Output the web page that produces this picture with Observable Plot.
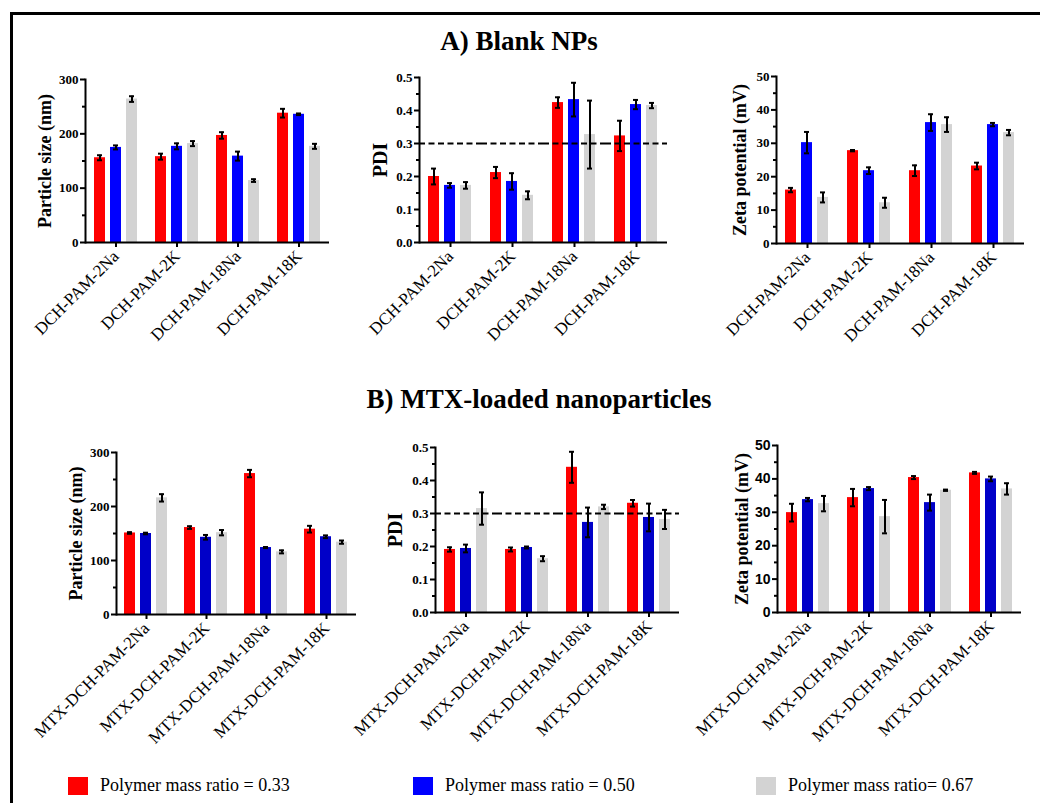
<!DOCTYPE html>
<html>
<head>
<meta charset="utf-8">
<script src="https://cdn.jsdelivr.net/npm/d3@7"></script>
<script src="https://cdn.jsdelivr.net/npm/@observablehq/plot@0.6"></script>
<style>
  html, body { margin: 0; padding: 0; background: #fff; }
  #root { position: relative; width: 1040px; height: 803px; overflow: hidden; background: #fff; font-family: 'Liberation Serif', serif; }
  .frame { position: absolute; left: 10px; top: 12px; width: 1100px; height: 900px; border-top: 3px solid #000; border-left: 3px solid #000; }
  .title { position: absolute; font-weight: bold; font-size: 27px; white-space: nowrap; transform: translateX(-50%); line-height: 1; }
  .panel { position: absolute; }
  .leg { position: absolute; top: 775px; display: flex; align-items: center; font-size: 18px; white-space: nowrap; }
  .leg .sw { width: 20px; height: 18px; margin-right: 12px; }
</style>
</head>
<body>
<div id="root">
  <div class="frame"></div>
</div>
<script>
// ---------- data ----------
const seriesKeys = ["0.33", "0.50", "0.67"];
const legendLabels = ["Polymer mass ratio = 0.33", "Polymer mass ratio = 0.50", "Polymer mass ratio= 0.67"];
const titleA = "A) Blank NPs";
const titleB = "B) MTX-loaded nanoparticles";

const catsA = ["DCH-PAM-2Na", "DCH-PAM-2K", "DCH-PAM-18Na", "DCH-PAM-18K"];
const catsB = ["MTX-DCH-PAM-2Na", "MTX-DCH-PAM-2K", "MTX-DCH-PAM-18Na", "MTX-DCH-PAM-18K"];

// A) Blank NPs — particle size (nm)
const sizeA_033 = [156, 158, 197, 238];
const sizeA_050 = [175, 177, 159, 236];
const sizeA_067 = [264, 182, 114, 177];
const sizeA_033_err = [4.6, 5.5, 6.0, 8.0];
const sizeA_050_err = [3.7, 5.5, 8.3, 1.5];
const sizeA_067_err = [5.2, 4.6, 2.5, 4.6];
// A) PDI
const pdiA_033 = [0.200, 0.212, 0.424, 0.323];
const pdiA_050 = [0.173, 0.185, 0.433, 0.418];
const pdiA_067 = [0.173, 0.143, 0.327, 0.415];
const pdiA_033_err = [0.024, 0.017, 0.016, 0.046];
const pdiA_050_err = [0.007, 0.025, 0.051, 0.014];
const pdiA_067_err = [0.010, 0.012, 0.103, 0.008];
// A) Zeta potential (mV)
const zetaA_033 = [16.0, 27.8, 21.8, 23.2];
const zetaA_050 = [30.2, 21.8, 36.2, 35.6];
const zetaA_067 = [13.8, 12.2, 35.6, 33.2];
const zetaA_033_err = [0.65, 0.2, 1.6, 1.0];
const zetaA_050_err = [3.2, 1.0, 2.5, 0.5];
const zetaA_067_err = [1.5, 1.5, 2.2, 0.8];

// B) MTX-loaded — particle size (nm)
const sizeB_033 = [151, 161, 261, 158];
const sizeB_050 = [150, 143, 124, 144];
const sizeB_067 = [216, 151.5, 116, 134];
const sizeB_033_err = [1.5, 2.5, 6.8, 6.2];
const sizeB_050_err = [1.5, 4.3, 1.0, 2.5];
const sizeB_067_err = [6.8, 4.9, 2.8, 3.0];
// B) PDI
const pdiB_033 = [0.191, 0.191, 0.440, 0.331];
const pdiB_050 = [0.194, 0.197, 0.273, 0.288];
const pdiB_067 = [0.315, 0.163, 0.320, 0.282];
const pdiB_033_err = [0.0066, 0.006, 0.047, 0.010];
const pdiB_050_err = [0.0117, 0.003, 0.045, 0.042];
const pdiB_067_err = [0.049, 0.0076, 0.0066, 0.029];
// B) Zeta potential (mV)
const zetaB_033 = [29.9, 34.4, 40.4, 41.8];
const zetaB_050 = [33.8, 37.1, 32.9, 40.0];
const zetaB_067 = [32.6, 28.7, 36.6, 37.0];
const zetaB_033_err = [2.65, 2.6, 0.45, 0.3];
const zetaB_050_err = [0.5, 0.45, 2.4, 0.7];
const zetaB_067_err = [2.3, 5.0, 0.2, 1.7];

const pdiThreshold = 0.3;

// ---------- helpers ----------
const RED = "#ff0000", BLUE_A = "#0000ff", BLUE_B = "#0000c8", GRAY = "#d3d3d3";

function rowsOf(cats, means, errs) {
  const out = [];
  cats.forEach((c, i) => {
    seriesKeys.forEach((s, j) => {
      out.push({cat: c, ser: s, mean: means[j][i], err: errs[j][i]});
    });
  });
  return out;
}

function panel(cfg) {
  const rows = rowsOf(cfg.cats, cfg.means, cfg.errs);
  const fmt = d3.format(cfg.fmt);
  const marks = [
    Plot.barY(rows, {fx: "cat", x: "ser", y: "mean", fill: "ser"}),
    Plot.ruleX(rows, {fx: "cat", x: "ser", y1: d => d.mean - d.err, y2: d => d.mean + d.err, stroke: "#000", strokeWidth: 2}),
    Plot.tickY(rows, {fx: "cat", x: "ser", y: d => d.mean + d.err, stroke: "#000", strokeWidth: 2, insetLeft: 3, insetRight: 3}),
    Plot.tickY(rows, {fx: "cat", x: "ser", y: d => d.mean - d.err, stroke: "#000", strokeWidth: 2, insetLeft: 3, insetRight: 3})
  ];
  if (cfg.dashed) marks.push(Plot.ruleY([pdiThreshold], {stroke: "#000", strokeWidth: 2, strokeDasharray: "6,3.5"}));
  marks.push(
    Plot.ruleY([cfg.yDomain[0]], {stroke: "#000", strokeWidth: 2}),
    Plot.frame({anchor: "left", facetAnchor: "left", stroke: "#000", strokeWidth: 2}),
    Plot.axisY({ticks: cfg.major, tickFormat: fmt, tickSize: 5, tickPadding: 2, strokeWidth: 2,
      fontWeight: "bold", fontSize: cfg.tickFontSize || 13, fontFamily: cfg.tickFont || "'Liberation Serif', serif", label: null}),
    Plot.axisY({ticks: cfg.minor, tickSize: 3, strokeWidth: 2, text: null, label: null}),
    Plot.axisFx({anchor: "bottom", tickRotate: -45, tickSize: 5, tickPadding: 6, strokeWidth: 2, fontSize: 17, label: null}),
    Plot.text([cfg.label], {frameAnchor: "left", textAnchor: "middle", lineAnchor: "middle", dx: -cfg.labelOffset, rotate: -90,
      fontWeight: "bold", fontSize: cfg.labelSize, facetAnchor: "left", fill: "#000"})
  );
  const el = Plot.plot({
    width: cfg.width, height: cfg.height,
    marginLeft: cfg.ml, marginRight: cfg.mr, marginTop: cfg.mt, marginBottom: cfg.mb,
    style: {fontFamily: "'Liberation Serif', serif", fontSize: "13px", color: "#000", background: "transparent", overflow: "visible"},
    fx: {domain: cfg.cats, paddingInner: 0, paddingOuter: 0, label: null, axis: null},
    x: {domain: seriesKeys, paddingInner: 0.29, paddingOuter: 0.49, axis: null},
    y: {domain: cfg.yDomain, axis: null},
    color: {domain: seriesKeys, range: [RED, cfg.blue, GRAY]},
    marks
  });
  const wrap = document.createElement("div");
  wrap.className = "panel";
  wrap.style.left = cfg.left + "px";
  wrap.style.top = cfg.top + "px";
  wrap.appendChild(el);
  document.getElementById("root").appendChild(wrap);
}

// ---------- titles ----------
function addTitle(text, cx, top) {
  const t = document.createElement("div");
  t.className = "title";
  t.textContent = text;
  t.style.left = cx + "px";
  t.style.top = top + "px";
  document.getElementById("root").appendChild(t);
}
addTitle(titleA, 519, 28);
addTitle(titleB, 539, 386);

// ---------- panels ----------
const sizeTicks = [0, 100, 200, 300], sizeMinor = [50, 150, 250];
const pdiTicks = [0, 0.1, 0.2, 0.3, 0.4, 0.5], pdiMinor = [0.05, 0.15, 0.25, 0.35, 0.45];
const zetaTicks = [0, 10, 20, 30, 40, 50], zetaMinor = [5, 15, 25, 35, 45];

panel({cats: catsA, means: [sizeA_033, sizeA_050, sizeA_067], errs: [sizeA_033_err, sizeA_050_err, sizeA_067_err],
  yDomain: [0, 300], major: sizeTicks, minor: sizeMinor, fmt: "d", label: "Particle size (nm)", labelSize: 18, labelOffset: 40,
  blue: BLUE_A, left: 0, top: 60, width: 340, height: 300, ml: 83, mr: 10, mt: 19, mb: 118});
panel({cats: catsA, means: [pdiA_033, pdiA_050, pdiA_067], errs: [pdiA_033_err, pdiA_050_err, pdiA_067_err],
  yDomain: [0, 0.5], major: pdiTicks, minor: pdiMinor, fmt: ".1f", label: "PDI", labelSize: 20, labelOffset: 39, dashed: true,
  blue: BLUE_A, left: 340, top: 60, width: 350, height: 300, ml: 78, mr: 23, mt: 17, mb: 118});
panel({cats: catsA, means: [zetaA_033, zetaA_050, zetaA_067], errs: [zetaA_033_err, zetaA_050_err, zetaA_067_err],
  yDomain: [0, 50], major: zetaTicks, minor: zetaMinor, fmt: "d", label: "Zeta potential (mV)", labelSize: 18, labelOffset: 36,
  blue: BLUE_A, left: 690, top: 60, width: 350, height: 300, ml: 86, mr: 16, mt: 16, mb: 117});

panel({cats: catsB, means: [sizeB_033, sizeB_050, sizeB_067], errs: [sizeB_033_err, sizeB_050_err, sizeB_067_err],
  yDomain: [0, 300], major: sizeTicks, minor: sizeMinor, fmt: "d", label: "Particle size (nm)", labelSize: 18, labelOffset: 40,
  blue: BLUE_B, left: 0, top: 420, width: 370, height: 335, ml: 115, mr: 13, mt: 32, mb: 141});
panel({cats: catsB, means: [pdiB_033, pdiB_050, pdiB_067], errs: [pdiB_033_err, pdiB_050_err, pdiB_067_err],
  yDomain: [0, 0.5], major: pdiTicks, minor: pdiMinor, fmt: ".1f", label: "PDI", labelSize: 20, labelOffset: 40, dashed: true,
  blue: BLUE_B, left: 370, top: 420, width: 330, height: 335, ml: 63, mr: 20, mt: 27, mb: 143});
panel({cats: catsB, means: [zetaB_033, zetaB_050, zetaB_067], errs: [zetaB_033_err, zetaB_050_err, zetaB_067_err],
  yDomain: [0, 50], major: zetaTicks, minor: zetaMinor, fmt: "d", label: "Zeta potential (mV)", labelSize: 18, labelOffset: 35,
  tickFont: "'Liberation Sans', Arial, sans-serif", tickFontSize: 14,
  blue: BLUE_B, left: 700, top: 420, width: 340, height: 335, ml: 75, mr: 18, mt: 25, mb: 143});

// ---------- legend ----------
const legendColors = [RED, BLUE_A, GRAY];
const legendLefts = [68, 413, 756];
legendLabels.forEach((lab, i) => {
  const d = document.createElement("div");
  d.className = "leg";
  d.style.left = legendLefts[i] + "px";
  const sw = document.createElement("div");
  sw.className = "sw";
  sw.style.background = legendColors[i];
  const tx = document.createElement("span");
  tx.textContent = lab;
  d.appendChild(sw); d.appendChild(tx);
  document.getElementById("root").appendChild(d);
});
</script>
</body>
</html>
